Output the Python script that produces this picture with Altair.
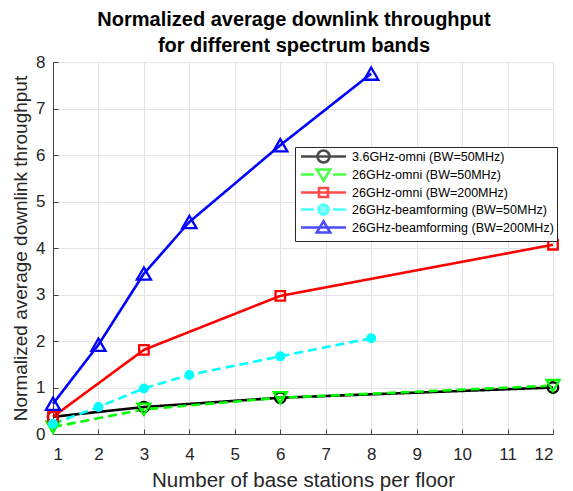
import altair as alt
import pandas as pd

series_names = [
    "3.6GHz-omni (BW=50MHz)",
    "26GHz-omni (BW=50MHz)",
    "26GHz-omni (BW=200MHz)",
    "26GHz-beamforming (BW=50MHz)",
    "26GHz-beamforming (BW=200MHz)",
]

x_omni36 = [1, 3, 6, 12]
y_omni36 = [0.37, 0.58, 0.78, 1.00]

x_omni26_50 = [1, 3, 6, 12]
y_omni26_50 = [0.15, 0.53, 0.78, 1.04]

x_omni26_200 = [1, 3, 6, 12]
y_omni26_200 = [0.37, 1.81, 2.97, 4.07]

x_bf26_50 = [1, 2, 3, 4, 6, 8]
y_bf26_50 = [0.22, 0.58, 0.98, 1.27, 1.67, 2.06]

x_bf26_200 = [1, 2, 3, 4, 6, 8]
y_bf26_200 = [0.65, 1.92, 3.45, 4.56, 6.21, 7.75]

x_ticks = list(range(1, 13))
y_ticks = list(range(0, 9))

colors = ["#000000", "#00ff00", "#ff0000", "#00ffff", "#0000ff"]
dashes = [[1, 0], [9, 5], [1, 0], [9, 5], [1, 0]]
shapes = ["circle", "triangle-down", "square", "circle", "triangle-up"]
sizes = [110, 170, 90, 100, 200]
filled_flags = [False, False, False, True, False]
fills = ["transparent", "transparent", "transparent", "#00ffff", "transparent"]

# legend symbols: a line sample with the marker on it
circ = "M-1.2,0A1.2,1.2,0,1,1,1.2,0A1.2,1.2,0,1,1,-1.2,0Z"
dot = "M-1,0A1,1,0,1,1,1,0A1,1,0,1,1,-1,0Z"
solid = "M-4.5,0L4.5,0"
dashed = "M-4.5,0L-1.9,0M1.9,0L4.5,0"
tri_dn = "M-1.35,-1L1.35,-1L0,1.25Z"
tri_up = "M-1.35,1L1.35,1L0,-1.25Z"
sq = "M-0.9,-0.9L0.9,-0.9L0.9,0.9L-0.9,0.9Z"
legend_paths = [
    solid + circ,
    dashed + tri_dn,
    solid + sq,
    dashed + dot,
    solid + tri_up,
]

rows = []
for name, xs, ys in zip(
    series_names,
    [x_omni36, x_omni26_50, x_omni26_200, x_bf26_50, x_bf26_200],
    [y_omni36, y_omni26_50, y_omni26_200, y_bf26_50, y_bf26_200],
):
    for xv, yv in zip(xs, ys):
        rows.append({"series": name, "x": xv, "y": yv})
df = pd.DataFrame(rows)

FONT = "Liberation Sans"
x_scale = alt.Scale(domain=[1, 12], nice=False)
y_scale = alt.Scale(domain=[0, 8], nice=False)

x_main = alt.X(
    "x:Q",
    scale=x_scale,
    axis=alt.Axis(
        values=x_ticks,
        title="Number of base stations per floor",
        titleFontSize=20.5,
        titleFontWeight="normal",
        titleColor="#262626",
        titlePadding=8,
        labelFontSize=17,
        labelColor="#262626",
        labelPadding=12,
        ticks=False,
        tickSize=0,
        domainColor="#404040",
        gridColor="#e3e3e3",
        labelFont=FONT,
        titleFont=FONT,
    ),
)
y_main = alt.Y(
    "y:Q",
    scale=y_scale,
    axis=alt.Axis(
        values=y_ticks,
        title="Normalized average downlink throughput",
        titleFontSize=19,
        titleFontWeight="normal",
        titleColor="#262626",
        titlePadding=5,
        labelFontSize=17,
        labelColor="#262626",
        labelPadding=8,
        ticks=False,
        tickSize=0,
        domainColor="#404040",
        gridColor="#e3e3e3",
        labelFont=FONT,
        titleFont=FONT,
    ),
)
x_plain = alt.X("x:Q", scale=x_scale, axis=None)
y_plain = alt.Y("y:Q", scale=y_scale, axis=None)

# inward-pointing ticks: a ticks-only axis moved onto the opposite edge
x_inner = alt.X(
    "x:Q",
    scale=x_scale,
    axis=alt.Axis(
        orient="top",
        offset=-372,
        values=x_ticks,
        title=None,
        labels=False,
        domain=False,
        grid=False,
        ticks=True,
        tickSize=5,
        tickWidth=1,
        tickColor="#404040",
    ),
)
y_inner = alt.Y(
    "y:Q",
    scale=y_scale,
    axis=alt.Axis(
        orient="right",
        offset=-500,
        values=y_ticks,
        title=None,
        labels=False,
        domain=False,
        grid=False,
        ticks=True,
        tickSize=5,
        tickWidth=1,
        tickColor="#404040",
        minExtent=0,
    ),
)

line_layers = []
point_layers = []
for i, (name, col, dash, shp, sz, fl) in enumerate(
    zip(series_names, colors, dashes, shapes, sizes, filled_flags)
):
    base = alt.Chart(df).transform_filter(alt.datum.series == name)
    xe, ye = (x_main, y_main) if i == 0 else (x_plain, y_plain)
    line_layers.append(
        base.mark_line(color=col, strokeDash=dash, strokeWidth=2.6).encode(x=xe, y=ye)
    )
    point_layers.append(
        base.mark_point(
            shape=shp, size=sz, filled=fl, color=col, opacity=1, strokeWidth=2.3
        ).encode(x=x_plain, y=y_plain)
    )

tick_layer = (
    alt.Chart(df)
    .transform_filter("datum.x < 0")
    .mark_point()
    .encode(x=x_inner, y=y_inner)
)

legend_props = dict(
    title=None,
    orient="none",
    legendX=242,
    legendY=85,
    labelFont=FONT,
    labelFontSize=12.5,
    labelColor="#000000",
    labelLimit=400,
    symbolSize=100,
    symbolStrokeWidth=2.6,
    symbolOffset=19,
    labelOffset=22,
    rowPadding=-4,
    padding=3,
    strokeColor="#262626",
    fillColor="#ffffff",
    cornerRadius=0,
)

# legend-only layer: its rows are filtered away, the legend comes from the scale domains
legend_layer = (
    alt.Chart(df)
    .transform_filter("datum.x < 0")
    .mark_point(filled=False)
    .encode(
        x=x_plain,
        y=y_plain,
        stroke=alt.Stroke(
            "series:N",
            scale=alt.Scale(domain=series_names, range=colors),
            legend=alt.Legend(**legend_props),
        ),
        fill=alt.Fill(
            "series:N",
            scale=alt.Scale(domain=series_names, range=fills),
            legend=alt.Legend(**legend_props),
        ),
        shape=alt.Shape(
            "series:N",
            scale=alt.Scale(domain=series_names, range=legend_paths),
            legend=alt.Legend(**legend_props),
        ),
    )
)

chart = (
    alt.layer(*line_layers, *point_layers, tick_layer, legend_layer)
    .resolve_axis(x="independent", y="independent")
    .properties(
        width=500,
        height=372,
        padding={"left": 3, "top": 2, "right": 0, "bottom": 0},
        title=alt.TitleParams(
            ["Normalized average downlink throughput", "for different spectrum bands"],
            font=FONT,
            fontSize=20,
            fontWeight="bold",
            color="#000000",
            lineHeight=26,
            offset=-3,
            dx=-9,
            anchor="middle",
        ),
    )
    .configure_view(stroke=None)
    .configure_axis(grid=True)
)

chart.save("out.html", embed_options={"renderer": "svg", "actions": False})
